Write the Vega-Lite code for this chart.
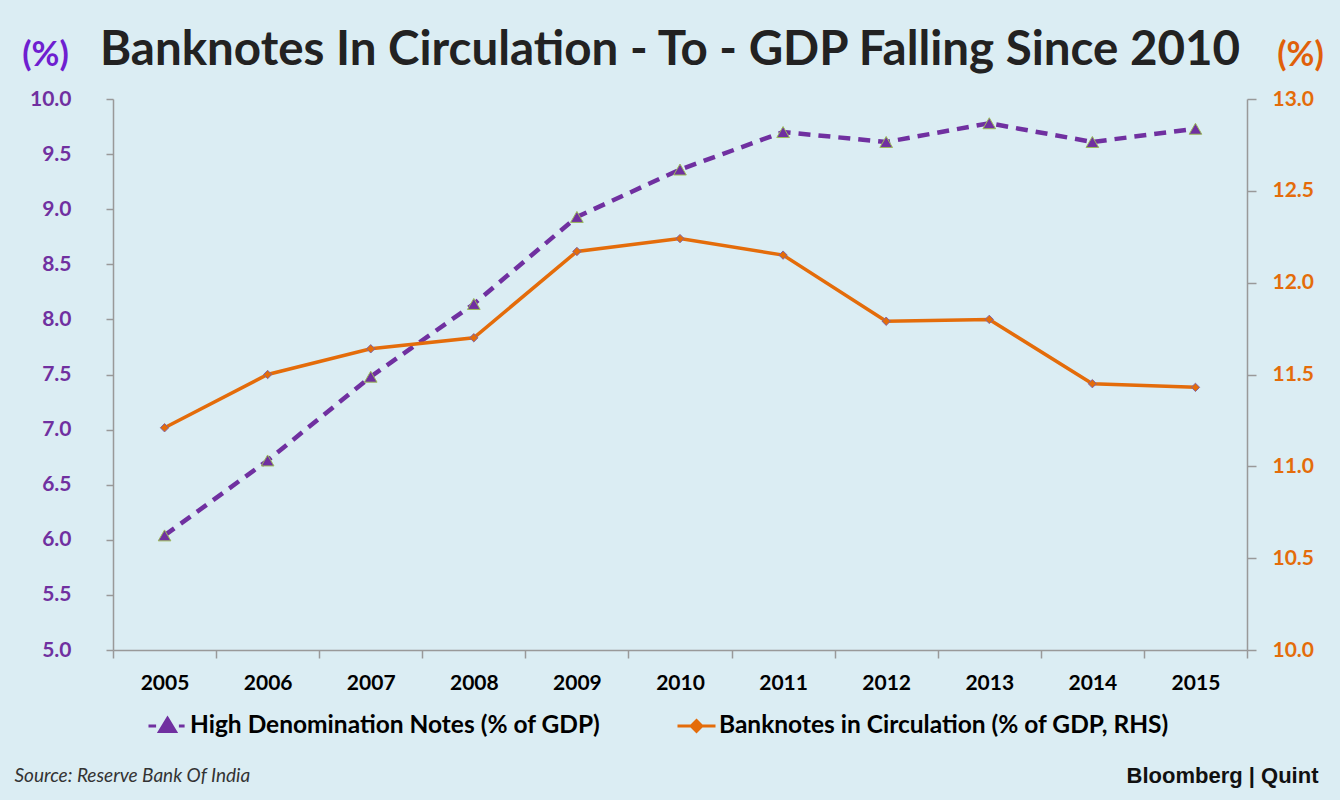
{
  "$schema": "https://vega.github.io/schema/vega-lite/v6.json",
  "width": 1134,
  "height": 551,
  "autosize": {"type": "none"},
  "padding": {"left": 113, "top": 99, "right": 93, "bottom": 150},
  "background": "#dbedf3",
  "config": {
    "view": {"stroke": null},
    "font": "Lato"
  },
  "title": {
    "text": "Banknotes In Circulation - To - GDP Falling Since 2010",
    "font": "Lato",
    "fontSize": 47.5,
    "fontWeight": "bold",
    "color": "#222222",
    "anchor": "middle",
    "frame": "group",
    "dx": -10,
    "dy": 56,
    "offset": 20
  },
  "data": {
    "values": [
      {"year": "2005", "series": "High Denomination Notes (% of GDP)", "value": 6.04},
      {"year": "2006", "series": "High Denomination Notes (% of GDP)", "value": 6.72},
      {"year": "2007", "series": "High Denomination Notes (% of GDP)", "value": 7.48},
      {"year": "2008", "series": "High Denomination Notes (% of GDP)", "value": 8.14},
      {"year": "2009", "series": "High Denomination Notes (% of GDP)", "value": 8.93},
      {"year": "2010", "series": "High Denomination Notes (% of GDP)", "value": 9.36},
      {"year": "2011", "series": "High Denomination Notes (% of GDP)", "value": 9.70},
      {"year": "2012", "series": "High Denomination Notes (% of GDP)", "value": 9.61},
      {"year": "2013", "series": "High Denomination Notes (% of GDP)", "value": 9.78},
      {"year": "2014", "series": "High Denomination Notes (% of GDP)", "value": 9.61},
      {"year": "2015", "series": "High Denomination Notes (% of GDP)", "value": 9.73},
      {"year": "2005", "series": "Banknotes in Circulation (% of GDP, RHS)", "value": 11.21},
      {"year": "2006", "series": "Banknotes in Circulation (% of GDP, RHS)", "value": 11.50},
      {"year": "2007", "series": "Banknotes in Circulation (% of GDP, RHS)", "value": 11.64},
      {"year": "2008", "series": "Banknotes in Circulation (% of GDP, RHS)", "value": 11.70},
      {"year": "2009", "series": "Banknotes in Circulation (% of GDP, RHS)", "value": 12.17},
      {"year": "2010", "series": "Banknotes in Circulation (% of GDP, RHS)", "value": 12.24},
      {"year": "2011", "series": "Banknotes in Circulation (% of GDP, RHS)", "value": 12.15},
      {"year": "2012", "series": "Banknotes in Circulation (% of GDP, RHS)", "value": 11.79},
      {"year": "2013", "series": "Banknotes in Circulation (% of GDP, RHS)", "value": 11.80},
      {"year": "2014", "series": "Banknotes in Circulation (% of GDP, RHS)", "value": 11.45},
      {"year": "2015", "series": "Banknotes in Circulation (% of GDP, RHS)", "value": 11.43}
    ]
  },
  "layer": [
    {
      "transform": [{"filter": {"field": "series", "equal": "High Denomination Notes (% of GDP)"}}],
      "encoding": {
        "x": {
          "field": "year", "type": "ordinal", "bandPosition": 0.5,
          "scale": {"type": "band", "paddingInner": 0, "paddingOuter": 0},
          "axis": {
            "orient": "bottom",
            "tickBand": "extent",
            "domainColor": "#999999", "domainWidth": 1.5,
            "tickColor": "#999999", "tickSize": 8, "tickWidth": 1.5,
            "labelFont": "Lato", "labelFontSize": 21, "labelFontWeight": "bold", "labelColor": "#000000",
            "labelPadding": 14, "labelAngle": 0,
            "title": "Source: Reserve Bank Of India",
            "titleFont": "Lato", "titleFontSize": 19, "titleFontWeight": "normal", "titleFontStyle": "italic",
            "titleColor": "#333333", "titleAlign": "left", "titleBaseline": "middle", "titleAnchor": "start",
            "titleX": -99, "titleY": 125
          }
        },
        "y": {
          "field": "value", "type": "quantitative",
          "scale": {"domain": [5, 10], "nice": false, "zero": false},
          "axis": {
            "orient": "left", "values": [5, 5.5, 6, 6.5, 7, 7.5, 8, 8.5, 9, 9.5, 10], "format": ".1f",
            "grid": false,
            "domainColor": "#999999", "domainWidth": 1.5,
            "tickColor": "#999999", "tickSize": 7, "tickWidth": 1.5,
            "labelFont": "Lato", "labelFontSize": 21, "labelFontWeight": "bold", "labelColor": "#7030a0",
            "labelPadding": 35,
            "title": "(%)", "titleAngle": 0, "titleFont": "Lato", "titleFontSize": 34, "titleFontWeight": "bold",
            "titleColor": "#6f1fd0", "titleAlign": "center", "titleBaseline": "middle",
            "titleX": -68, "titleY": -44
          }
        },
        "color": {
          "field": "series", "type": "nominal",
          "scale": {"domain": ["High Denomination Notes (% of GDP)", "Banknotes in Circulation (% of GDP, RHS)"], "range": ["#7030a0", "#e46c0a"]},
          "legend": {
            "title": null,
            "orient": "none", "legendX": 34, "legendY": 606, "direction": "horizontal",
            "labelFont": "Lato", "labelFontSize": 24.5, "labelFontWeight": "bold", "labelColor": "#000000", "labelLimit": 700, "labelOffset": 2,
            "symbolSize": 1444, "symbolStrokeWidth": 3, "columnPadding": 70,
            "encode": {
              "symbols": {
                "update": {
                  "shape": {"signal": "datum.value === 'High Denomination Notes (% of GDP)' ? 'M-1,0H-0.6M-0.15,0H0.15M0.6,0H0.9M0,-0.4L0.42,0.3L-0.42,0.3Z' : 'M-1,0H1M0,-0.28L0.28,0L0,0.28L-0.28,0Z'"},
                  "fill": {"scale": "color", "field": "value"},
                  "stroke": {"scale": "color", "field": "value"},
                  "strokeDash": {"value": []},
                  "opacity": {"value": 1}
                }
              }
            }
          }
        }
      },
      "layer": [
        {"mark": {"type": "line", "strokeWidth": 4.5, "strokeDash": [12, 8]}},
        {"mark": {"type": "point", "shape": "triangle-up", "filled": true, "size": 160, "stroke": "#9bbb59", "strokeWidth": 1, "opacity": 1}}
      ]
    },
    {
      "transform": [{"filter": {"field": "series", "equal": "Banknotes in Circulation (% of GDP, RHS)"}}],
      "encoding": {
        "x": {
          "field": "year", "type": "ordinal", "bandPosition": 0.5,
          "axis": {
            "orient": "top", "labels": false, "ticks": false, "domain": false,
            "title": "Bloomberg  |  Quint",
            "titleFont": "Liberation Sans", "titleFontSize": 22, "titleFontWeight": "bold", "titleColor": "#111111",
            "titleAlign": "right", "titleBaseline": "middle", "titleAnchor": "end",
            "titleX": 1205, "titleY": 676
          }
        },
        "y": {
          "field": "value", "type": "quantitative",
          "scale": {"domain": [10, 13], "nice": false, "zero": false},
          "axis": {
            "orient": "right", "values": [10, 10.5, 11, 11.5, 12, 12.5, 13], "format": ".1f",
            "grid": false,
            "domainColor": "#999999", "domainWidth": 1.5,
            "tickColor": "#999999", "tickSize": 9, "tickWidth": 1.5,
            "labelFont": "Lato", "labelFontSize": 21, "labelFontWeight": "bold", "labelColor": "#e46c0a",
            "labelPadding": 16,
            "title": "(%)", "titleAngle": 0, "titleFont": "Lato", "titleFontSize": 34, "titleFontWeight": "bold",
            "titleColor": "#e0600a", "titleAlign": "center", "titleBaseline": "middle",
            "titleX": 53, "titleY": -44
          }
        },
        "color": {"field": "series", "type": "nominal"}
      },
      "layer": [
        {"mark": {"type": "line", "strokeWidth": 3.5}},
        {"mark": {"type": "point", "shape": "diamond", "filled": true, "size": 70, "stroke": "#8064a2", "strokeWidth": 1, "opacity": 1}}
      ]
    }
  ],
  "resolve": {"scale": {"y": "independent"}, "axis": {"x": "independent", "y": "independent"}}
}
